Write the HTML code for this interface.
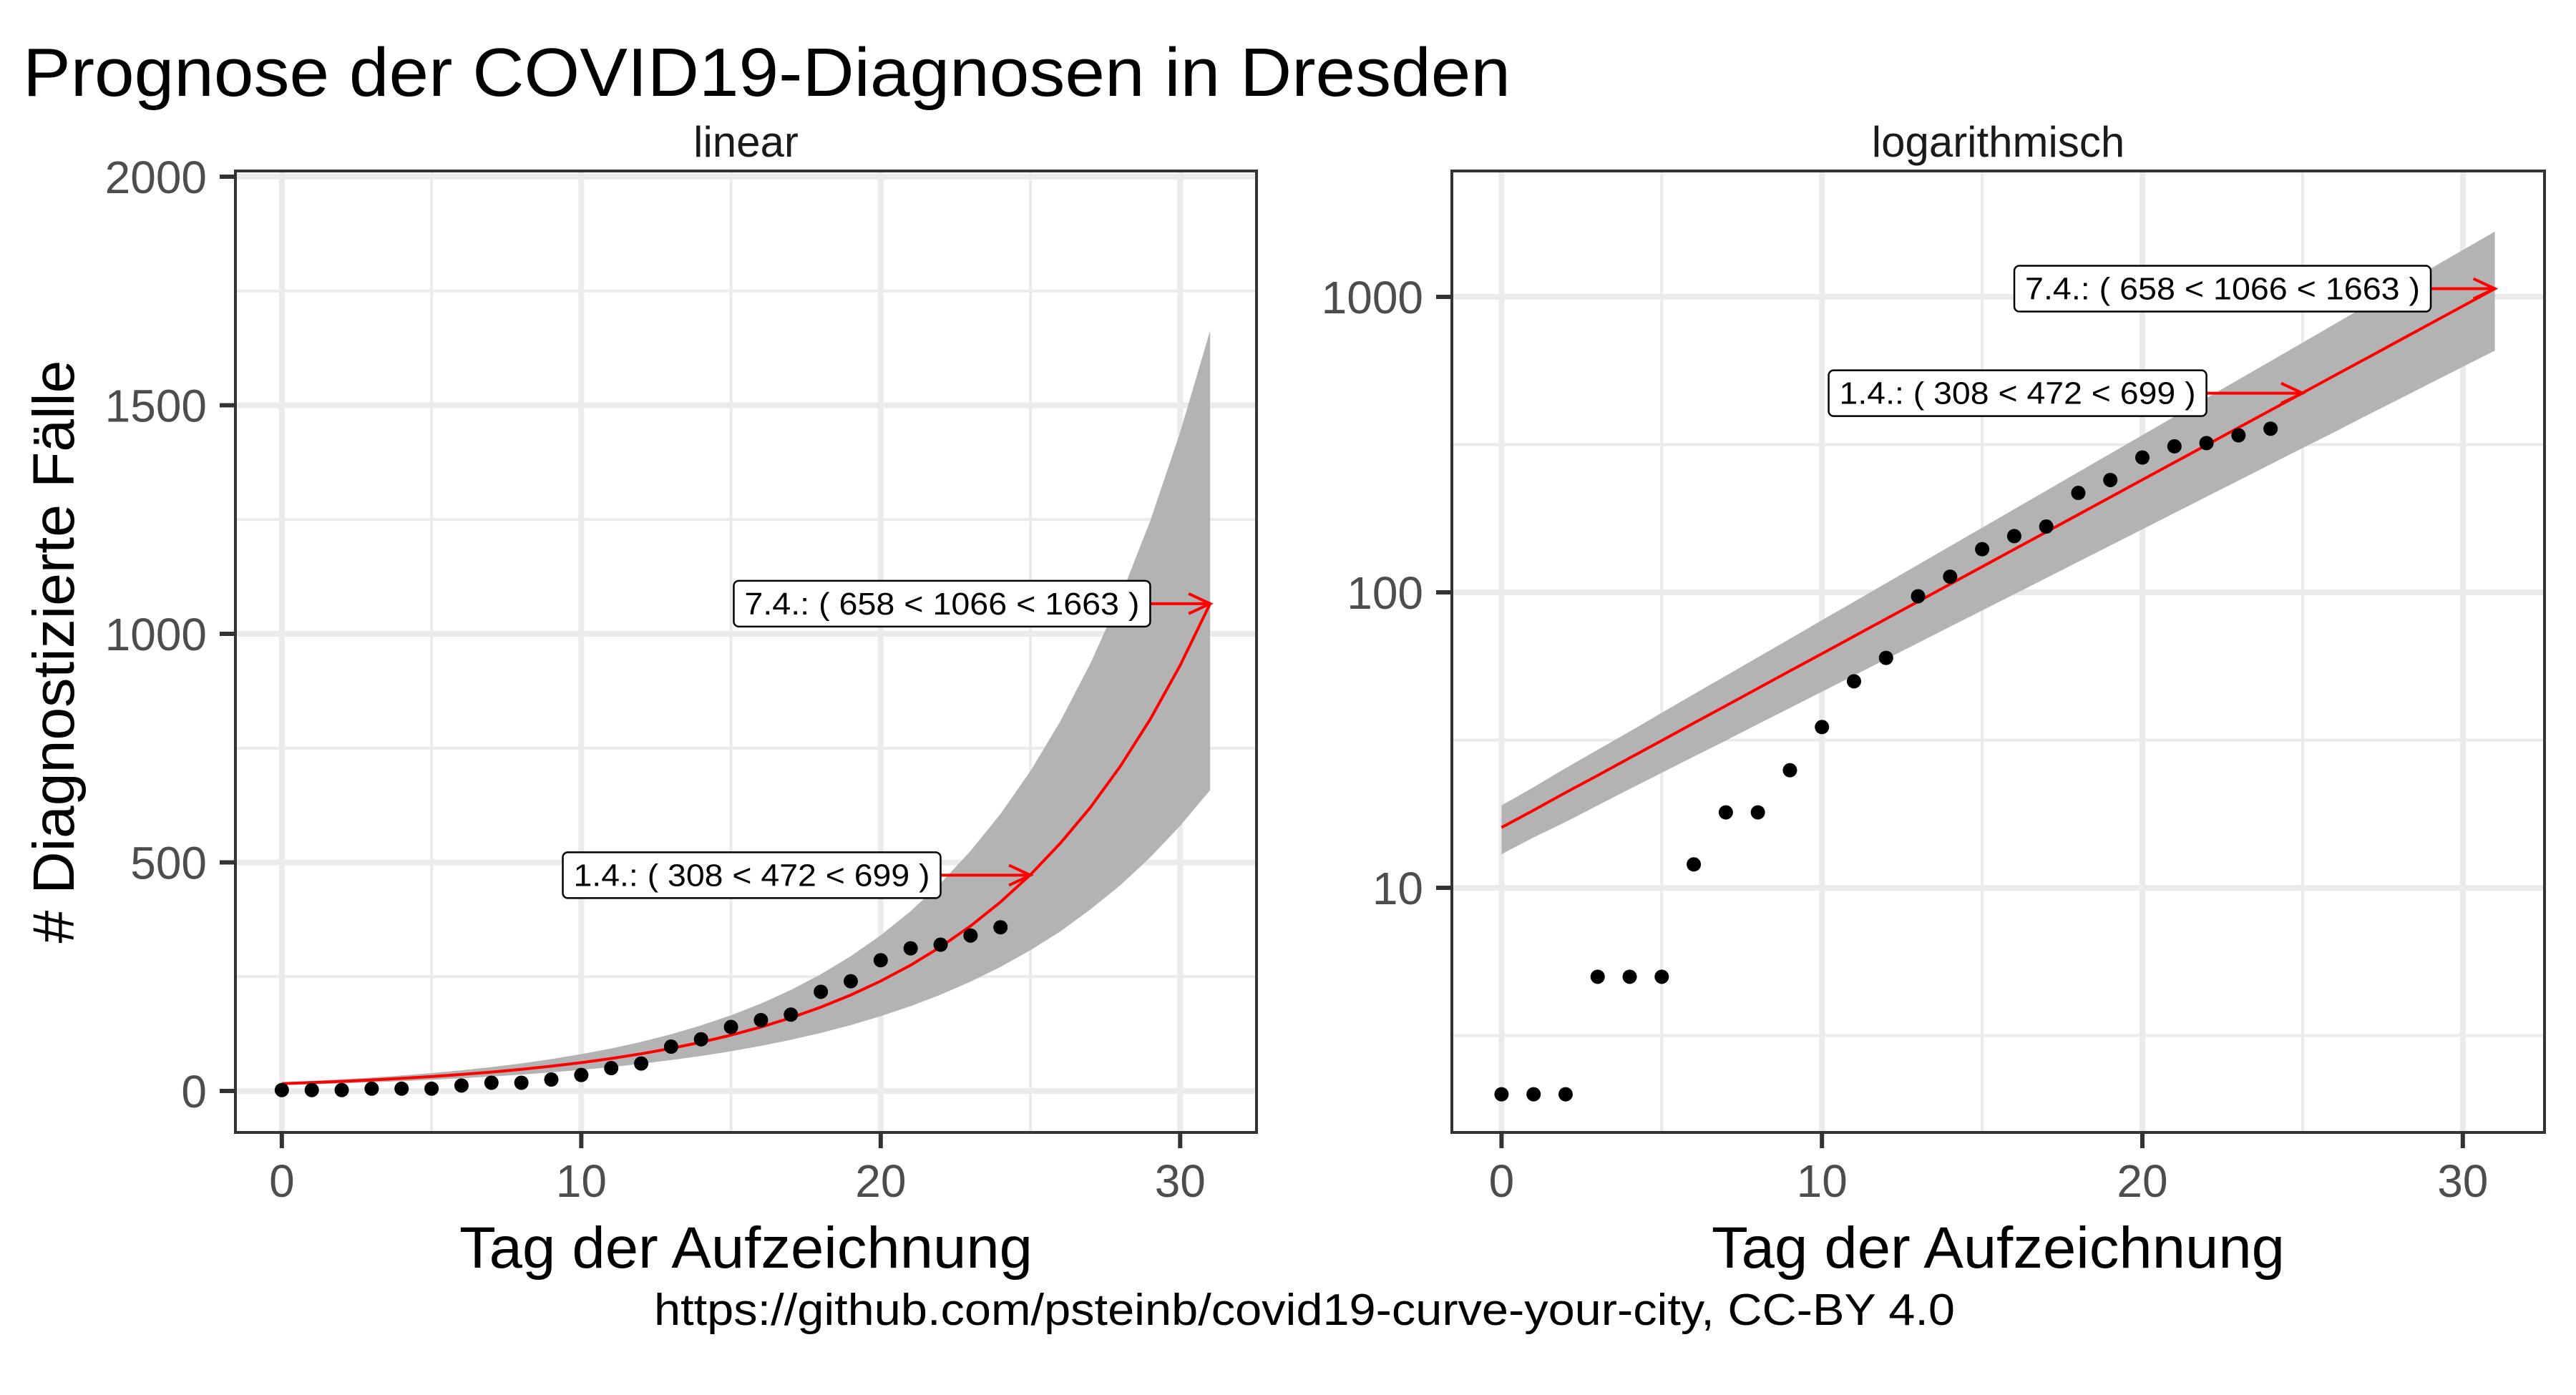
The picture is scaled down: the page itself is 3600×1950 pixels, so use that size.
<!DOCTYPE html>
<html><head><meta charset="utf-8"><style>
html,body{margin:0;padding:0;background:#fff}
svg{display:block}
text{font-family:"Liberation Sans",sans-serif}
</style></head><body>
<svg id="chart" xmlns="http://www.w3.org/2000/svg" width="3600" height="1950" viewBox="0 0 3600 1950">
<rect width="3600" height="1950" fill="#fff"/>
<text x="32" y="134" font-size="96" textLength="2079" lengthAdjust="spacingAndGlyphs" fill="#000">Prognose der COVID19-Diagnosen in Dresden</text>
<text x="1823" y="1852" font-size="62" text-anchor="middle" textLength="1818" lengthAdjust="spacingAndGlyphs" fill="#000">https://github.com/psteinb/covid19-curve-your-city, CC-BY 4.0</text>
<text transform="translate(103,911) rotate(-90)" font-size="82" text-anchor="middle" textLength="815" lengthAdjust="spacingAndGlyphs" fill="#000"># Diagnostizierte Fälle</text>
<g id="left"></g>
<g id="right"></g>
</svg>
<script>
const days = [0,1,2,3,4,5,6,7,8,9,10,11,12,13,14,15,16,17,18,19,20,21,22,23,24];
const cases = [2,2,2,5,5,5,12,18,18,25,35,50,60,97,113,140,155,167,217,240,286,312,320,340,358];
const fitDays = [0,1,2,3,4,5,6,7,8,9,10,11,12,13,14,15,16,17,18,19,20,21,22,23,24,25,26,27,28,29,30,31];
const fitMid = [16,18.3,21.0,24.0,27.5,31.5,36.1,41.3,47.3,54.2,62.0,71.0,81.3,93.1,106.6,122.1,139.8,160.1,183.3,209.9,240.4,275.2,315.2,360.9,413.3,473,542,620,710,813,931,1066];
const fitLow = [13,14.8,16.7,19.0,21.6,24.5,27.8,31.5,35.8,40.6,46.1,52.3,59.4,67.4,76.5,86.8,98.5,111.8,126.9,144.0,163.5,185.5,210.6,239.0,271.3,308,349,397,450,511,580,658];
const fitHigh = [19,21.9,25.4,29.3,33.8,39.1,45.2,52.2,60.3,69.6,80.5,92.9,107.4,124.0,143.3,165.5,191.2,220.9,255.2,294.8,340.5,393.4,454.4,525,606,700,809,935,1080,1247,1441,1663];
const annDays = [25,31];
const annLow = [308,658];
const annMid = [472,1066];
const annHigh = [699,1663];
const annLabel = ["1.4.","7.4."];
const xTicks = [0,10,20,30];
const linTicks = [0,500,1000,1500,2000];
const linMinor = [250,750,1250,1750];
const logTicks = [10,100,1000];
const logMinor = [3.1623,31.623,316.23];

const NS="http://www.w3.org/2000/svg";
function mk(parent,tag,attrs,text){const e=document.createElementNS(NS,tag);for(const k in attrs)e.setAttribute(k,attrs[k]);if(text!==undefined)e.textContent=text;parent.appendChild(e);return e;}

function panel(g, cfg){
  const {L,R,T,B,log,title,xDomain} = cfg;
  const xs = d => L + (d - xDomain[0])/(xDomain[1]-xDomain[0])*(R-L);
  const ys = log ? (v => cfg.y1000 + (3 - Math.log10(v))*cfg.decade) : (v => cfg.y0 - v*cfg.perUnit);
  const majors = log ? logTicks : linTicks;
  const minors = log ? logMinor : linMinor;
  const xMinor = [5,15,25];
  for (const m of minors){const y=ys(m); if(y<T||y>B) continue;
    const l=mk(g,'line',{x1:L,x2:R,y1:y,y2:y,stroke:'#ebebeb','stroke-width':4});
    
    }
  for (const m of xMinor){const x=xs(m);
    const l=mk(g,'line',{x1:x,x2:x,y1:T,y2:B,stroke:'#ebebeb','stroke-width':4});
    
    }
  for (const m of majors){const y=ys(m); if(y<T-5||y>B) continue;
    const l=mk(g,'line',{x1:L,x2:R,y1:y,y2:y,stroke:'#ebebeb','stroke-width':8});
    
    
    const t=mk(g,'line',{x1:L-22,x2:L,y1:y,y2:y,stroke:'#333','stroke-width':6});
    
    
    const tl=mk(g,'text',{x:L-40,y:y+23,'font-size':64,'text-anchor':'end',fill:'#4d4d4d'},String(m));
    
    }
  for (const m of xTicks){const x=xs(m);
    const l=mk(g,'line',{x1:x,x2:x,y1:T,y2:B,stroke:'#ebebeb','stroke-width':8});
    
    
    const t=mk(g,'line',{x1:x,x2:x,y1:B,y2:B+22,stroke:'#333','stroke-width':6});
    
    
    const tl=mk(g,'text',{x:x,y:B+90,'font-size':64,'text-anchor':'middle',fill:'#4d4d4d'},String(m));
    
    }
  let pts=[];
  fitDays.forEach((d,i)=>pts.push(xs(d)+','+ys(fitHigh[i])));
  for(let i=fitDays.length-1;i>=0;i--) pts.push(xs(fitDays[i])+','+ys(fitLow[i]));
  const band=mk(g,'polygon',{points:pts.join(' '),fill:'#b3b3b3'});
  
  
  const line=mk(g,'polyline',{points:fitDays.map((d,i)=>xs(d)+','+ys(fitMid[i])).join(' '),fill:'none',stroke:'#ff0000','stroke-width':4});
  
  
  days.forEach((d,i)=>{const c=mk(g,'circle',{cx:xs(d),cy:ys(cases[i]),r:10,fill:'#000'});
    
    });
  const boxRightDay=[22,29];
  annDays.forEach((d,i)=>{
    const y=ys(annMid[i]), xe=xs(d), br=xs(boxRightDay[i]);
    const txt=annLabel[i]+': ( '+annLow[i]+' < '+annMid[i]+' < '+annHigh[i]+' )';
    const w = i===0 ? 528 : 582;
    const a=mk(g,'line',{x1:br,x2:xe,y1:y,y2:y,stroke:'#ff0000','stroke-width':4});
    
    
    const h=mk(g,'polyline',{points:(xe-30)+','+(y-14)+' '+xe+','+y+' '+(xe-30)+','+(y+14),fill:'none',stroke:'#ff0000','stroke-width':4});
    
    
    const r=mk(g,'rect',{x:br-w,y:y-32,width:w,height:64,rx:7,fill:'#fff',stroke:'#000','stroke-width':2.5});
    
    
    const t=mk(g,'text',{x:br-w/2,y:y+15,'font-size':44,'text-anchor':'middle',textLength:w-30,lengthAdjust:'spacingAndGlyphs',fill:'#000'},txt);
    
    
  });
  const bd=mk(g,'rect',{x:L,y:T,width:R-L,height:B-T,fill:'none',stroke:'#333','stroke-width':4});
  
  
  const ft=mk(g,'text',{x:(L+R)/2,y:T-20,'font-size':60,'text-anchor':'middle',fill:'#1a1a1a'},title);
  
  
  const xt=mk(g,'text',{x:(L+R)/2,y:1772,'font-size':82,'text-anchor':'middle',textLength:801,lengthAdjust:'spacingAndGlyphs',fill:'#000'},'Tag der Aufzeichnung');
  
  
}
panel(document.getElementById('left'),{L:329,R:1756,T:239,B:1583,log:false,title:'linear',xDomain:[-1.55,32.55],y0:1525,perUnit:0.639});
panel(document.getElementById('right'),{L:2029,R:3556,T:239,B:1583,log:true,title:'logarithmisch',xDomain:[-1.55,32.55],y1000:415,decade:413});
</script>
</body></html>
